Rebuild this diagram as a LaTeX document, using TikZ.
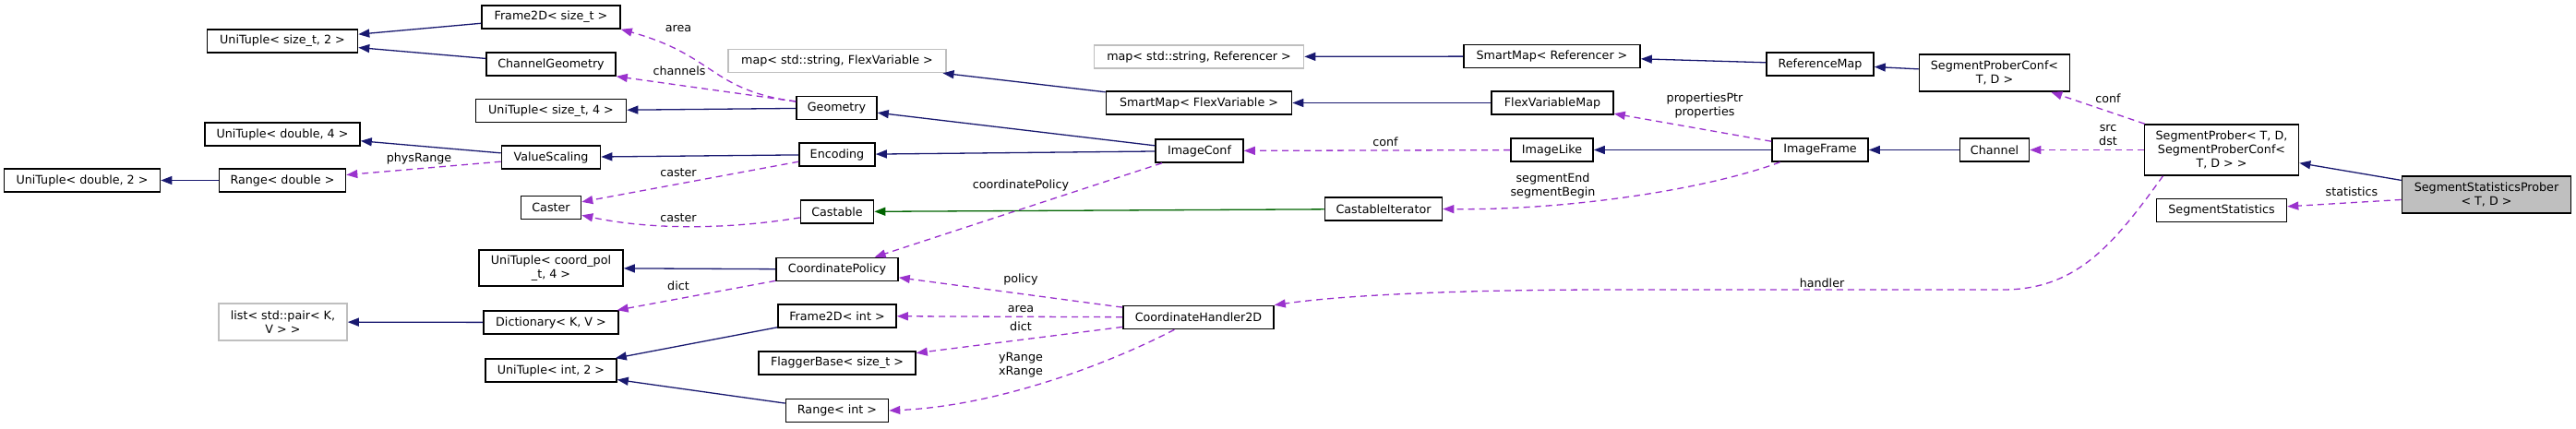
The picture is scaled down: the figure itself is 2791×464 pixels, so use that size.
\documentclass[tikz,border=0pt]{standalone}
\usepackage{fontspec}
\setmainfont{DejaVu Sans}
\usetikzlibrary{arrows.meta}
\definecolor{Nasljedje}{HTML}{191970}
\definecolor{Upotreba}{HTML}{9A32CD}
\definecolor{Predlozak}{HTML}{006400}
\definecolor{Vanjska}{HTML}{BFBFBF}
\tikzset{
  klasa/.style   = {rectangle, draw=black, line width=1.6pt, fill=white, align=center,
                    font=\fontsize{12.7}{15}\selectfont, minimum height=25pt, inner sep=2pt},
  vanjska/.style = {klasa, draw=Vanjska},
  glavna/.style  = {klasa, fill=Vanjska},
  oznaka/.style  = {font=\fontsize{12.7}{15}\selectfont, align=center, inner sep=1pt},
  nasl/.style    = {-{Triangle[length=12pt, width=9pt]}, draw=Nasljedje, line width=1.3pt},
  pred/.style    = {-{Triangle[length=12pt, width=9pt]}, draw=Predlozak, line width=1.3pt},
  upotr/.style   = {-{Triangle[length=12pt, width=9pt]}, draw=Upotreba, line width=1.3pt,
                    dash pattern=on 7pt off 5pt},
}

\begin{document}
\begin{tikzpicture}[x=1pt, y=-1pt]
  \useasboundingbox (0,0) rectangle (2791,464);
  % --- prva dva stupca ---
  \node[klasa, minimum width=169pt] at (89, 195.5) (utd2) {UniTuple< double, 2 >};
  \node[klasa, minimum width=163pt] at (306, 44.5) (uts2) {UniTuple< size\_t, 2 >};
  \node[klasa, minimum width=168pt] at (306, 145.5) (utd4) {UniTuple< double, 4 >};
  \node[klasa, minimum width=137pt] at (306, 195.5) (rngd) {Range< double >};
  \node[vanjska, minimum width=139pt, minimum height=40pt] at (306.5, 349) (lst) {list< std::pair< K,\\V > >};

  % --- treci stupac ---
  \node[klasa, minimum width=150pt] at (597, 18.5) (f2s) {Frame2D< size\_t >};
  \node[klasa, minimum width=140pt] at (597, 69.5) (chg) {ChannelGeometry};
  \node[klasa, minimum width=163pt] at (597, 120) (uts4) {UniTuple< size\_t, 4 >};
  \node[klasa, minimum width=107pt] at (597, 170.5) (vsc) {ValueScaling};
  \node[klasa, minimum width=65pt] at (597, 225) (cst) {Caster};
  \node[klasa, minimum width=156pt, minimum height=39pt] at (597, 290.5) (utc4) {UniTuple< coord\_pol\\\_t, 4 >};
  \node[klasa, minimum width=146pt] at (597, 349.5) (dic) {Dictionary< K, V >};
  \node[klasa, minimum width=142pt] at (597, 401.5) (uti2) {UniTuple< int, 2 >};

  % --- cetvrti stupac ---
  \node[vanjska, minimum width=236pt] at (907, 66) (mfv) {map< std::string, FlexVariable >};
  \node[klasa, minimum width=87pt] at (906.5, 117) (geo) {Geometry};
  \node[klasa, minimum width=82pt] at (907, 167.5) (enc) {Encoding};
  \node[klasa, minimum width=79pt] at (907, 229.5) (cstb) {Castable};
  \node[klasa, minimum width=132pt] at (907, 292) (cpol) {CoordinatePolicy};
  \node[klasa, minimum width=128pt] at (907, 342.5) (f2i) {Frame2D< int >};
  \node[klasa, minimum width=170pt] at (907, 393.5) (flg) {FlaggerBase< size\_t >};
  \node[klasa, minimum width=111pt] at (907, 445) (rngi) {Range< int >};

  % --- sredina ---
  \node[vanjska, minimum width=227pt] at (1299, 61.5) (mref) {map< std::string, Referencer >};
  \node[klasa, minimum width=201pt] at (1299, 111.5) (smfv) {SmartMap< FlexVariable >};
  \node[klasa, minimum width=95pt] at (1299.5, 163.5) (icf) {ImageConf};
  \node[klasa, minimum width=163pt] at (1298.5, 344) (ch2) {CoordinateHandler2D};
  \node[klasa, minimum width=127pt] at (1499, 226.5) (cit) {CastableIterator};
  \node[klasa, minimum width=191pt] at (1681.5, 61) (smref) {SmartMap< Referencer >};
  \node[klasa, minimum width=132pt] at (1682, 111.5) (fvm) {FlexVariableMap};
  \node[klasa, minimum width=89pt] at (1681.5, 162.5) (iml) {ImageLike};

  % --- desno ---
  \node[klasa, minimum width=116pt] at (1972, 69.5) (rfm) {ReferenceMap};
  \node[klasa, minimum width=104pt] at (1972, 162.5) (imf) {ImageFrame};
  \node[klasa, minimum width=163pt, minimum height=40pt] at (2161, 79) (spc) {SegmentProberConf<\\T, D >};
  \node[klasa, minimum width=75pt] at (2161, 162.5) (chn) {Channel};
  \node[klasa, minimum width=167pt, minimum height=55pt] at (2407, 162.5) (spr)
        {SegmentProber< T, D,\\SegmentProberConf<\\T, D > >};
  \node[klasa, minimum width=141pt] at (2407, 228) (sst) {SegmentStatistics};
  \node[glavna, minimum width=183pt, minimum height=40pt] at (2694, 211) (ssp) {SegmentStatisticsProber\\< T, D >};

  % --- nasljedjivanje ---
  \draw[nasl] (f2s) -- (uts2);
  \draw[nasl] (chg) -- (uts2);
  \draw[nasl] (geo) -- (uts4);
  \draw[nasl] (vsc) -- (utd4);
  \draw[nasl] (rngd) -- (utd2);
  \draw[nasl] (enc) -- (vsc);
  \draw[nasl] (icf) -- (geo);
  \draw[nasl] (icf) -- (enc);
  \draw[nasl] (smfv) -- (mfv);
  \draw[nasl] (smref) -- (mref);
  \draw[nasl] (fvm) -- (smfv);
  \draw[nasl] (rfm) -- (smref);
  \draw[nasl] (spc) -- (rfm);
  \draw[nasl] (imf) -- (iml);
  \draw[nasl] (chn) -- (imf);
  \draw[nasl] (ssp) -- (spr);
  \draw[nasl] (cpol) -- (utc4);
  \draw[nasl] (dic) -- (lst);
  \draw[nasl] (f2i) -- (uti2);
  \draw[nasl] (rngi) -- (uti2);
  \draw[pred] (cit) -- (cstb);

  % --- upotreba ---
  \draw[upotr] (geo.171) .. controls (770,98) and (775,60) .. (f2s.south east);
  \draw[upotr] (geo.171) -- (chg.south east);
  \draw[upotr] (enc) -- (cst);
  \draw[upotr] (cstb.189) .. controls (780,250) and (700,248) .. (cst.-14);
  \draw[upotr] (vsc) -- (rngd);
  \draw[upotr] (icf) -- (cpol);
  \draw[upotr] (cpol) -- (dic);
  \draw[upotr] (ch2) -- (cpol);
  \draw[upotr] (ch2) -- (f2i);
  \draw[upotr] (ch2) -- (flg);
  \draw[upotr] (ch2.207) .. controls (1200,395) and (1080,440) .. (rngi.east);
  \draw[upotr] (iml) -- (icf);
  \draw[upotr] (imf) -- (fvm);
  \draw[upotr] (imf.197) .. controls (1850,205) and (1700,228) .. (cit.east);
  \draw[upotr] (spr) -- (spc);
  \draw[upotr] (spr) -- (chn);
  \draw[upotr] (spr.204) .. controls (2290,265) and (2250,314) .. (2170,314) -- (1750,314)
               .. controls (1550,314) and (1440,322) .. (ch2.north east);
  \draw[upotr] (ssp) -- (sst);

  % --- oznake ---
  \node[oznaka] at (735, 31) (oArea) {area};
  \node[oznaka] at (736, 77) (oChannels) {channels};
  \node[oznaka] at (454, 172) (oPhys) {physRange};
  \node[oznaka] at (735, 187) (oCaster) {caster};
  \node[oznaka] at (735, 236) (oCasterB) {caster};
  \node[oznaka] at (1106, 201) (oCoord) {coordinatePolicy};
  \node[oznaka] at (735, 310) (oDict) {dict};
  \node[oznaka] at (1106, 303) (oPolicy) {policy};
  \node[oznaka] at (1106, 335) (oAreaB) {area};
  \node[oznaka] at (1106, 354) (oDictB) {dict};
  \node[oznaka] at (1106, 395.5) (oRange) {yRange\\xRange};
  \node[oznaka] at (1501, 154) (oConf) {conf};
  \node[oznaka] at (1847, 114) (oProps) {propertiesPtr\\properties};
  \node[oznaka] at (1682.5, 201.5) (oSeg) {segmentEnd\\segmentBegin};
  \node[oznaka] at (1974, 307) (oHandler) {handler};
  \node[oznaka] at (2284, 107) (oConfB) {conf};
  \node[oznaka] at (2284, 147) (oSrc) {src\\dst};
  \node[oznaka] at (2548, 208) (oStat) {statistics};
\end{tikzpicture}
\end{document}
